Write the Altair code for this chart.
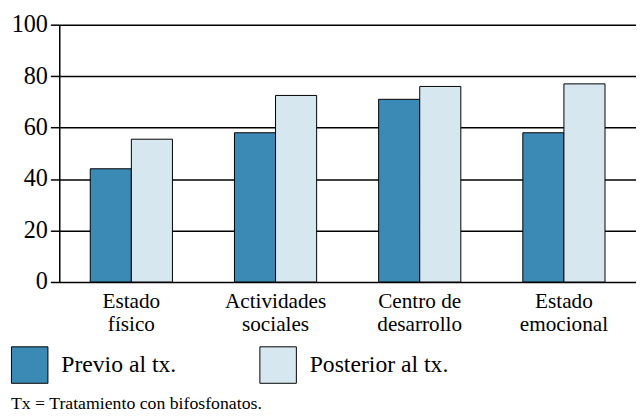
import altair as alt
import pandas as pd

categories = ["Estado\nfísico", "Actividades\nsociales", "Centro de\ndesarrollo", "Estado\nemocional"]
previo = [44, 58, 71, 58]
posterior = [55.5, 72.5, 76, 77]
series = ["Previo al tx.", "Posterior al tx."]
colors = ["#3b89b5", "#d7e7f0"]
y_ticks = [0, 20, 40, 60, 80, 100]
note = "Tx = Tratamiento con bifosfonatos."

rows = []
for c, a, b in zip(categories, previo, posterior):
    rows.append({"cat": c, "serie": series[0], "val": a})
    rows.append({"cat": c, "serie": series[1], "val": b})
df = pd.DataFrame(rows)

FONT = "Liberation Serif"

chart = alt.Chart(
    df,
    title=alt.TitleParams(
        note, orient="bottom", anchor="start", frame="bounds",
        fontSize=18, font=FONT, fontWeight="normal", color="black", offset=10,
    ),
).mark_bar(stroke="black", strokeWidth=1).encode(
    x=alt.X(
        "cat:N", sort=categories,
        scale=alt.Scale(paddingInner=0.43, paddingOuter=0.215),
        axis=alt.Axis(
            title=None, labelAngle=0, labelExpr="split(datum.value, '\\n')",
            domain=False, ticks=False, labelFontSize=21.5, labelLineHeight=23,
            labelPadding=9, labelColor="black", labelFont=FONT,
        ),
    ),
    xOffset=alt.XOffset("serie:N", sort=series),
    y=alt.Y(
        "val:Q", scale=alt.Scale(domain=[0, 100]),
        axis=alt.Axis(
            values=y_ticks, title=None, domain=True, domainColor="black",
            domainWidth=1.5, ticks=True, tickSize=9, tickColor="black",
            tickWidth=1.5, grid=True, gridColor="black", gridWidth=1.5,
            labelFontSize=24.5, labelPadding=3, labelColor="black", labelFont=FONT,
        ),
    ),
    color=alt.Color(
        "serie:N", sort=series,
        scale=alt.Scale(domain=series, range=colors),
        legend=alt.Legend(
            title=None, orient="none", legendX=-49, legendY=326,
            direction="horizontal", symbolType="square", symbolSize=1369,
            symbolStrokeColor="black", symbolStrokeWidth=1, symbolOpacity=1,
            labelFontSize=24, labelFont=FONT, labelColor="black",
            labelOffset=13, columnPadding=82, padding=0,
        ),
    ),
).properties(
    width=585, height=261,
    padding={"left": 3, "top": 1, "right": 0, "bottom": 0},
).configure_view(stroke=None)

chart.save("out.html", embed_options={"renderer": "svg", "actions": False})
